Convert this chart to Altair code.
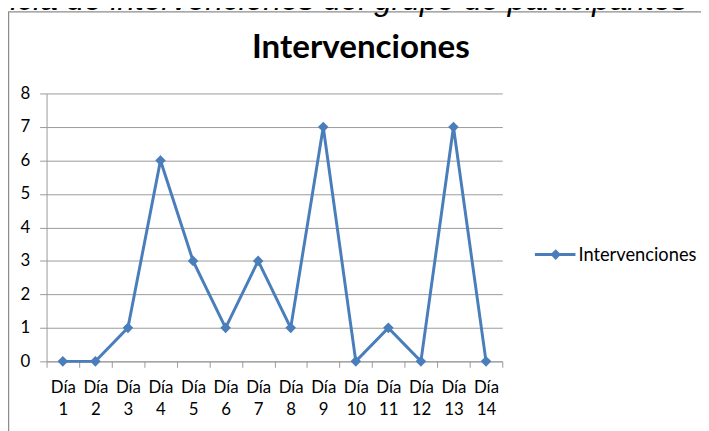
import altair as alt
import pandas as pd

dias = ["Día 1", "Día 2", "Día 3", "Día 4", "Día 5", "Día 6", "Día 7",
        "Día 8", "Día 9", "Día 10", "Día 11", "Día 12", "Día 13", "Día 14"]
intervenciones = [0, 0, 1, 6, 3, 1, 3, 1, 7, 0, 1, 0, 7, 0]
serie = "Intervenciones"
titulo = "Intervenciones"
encabezado = "Frecuencia de intervenciones del grupo de participantes"
y_ticks = [0, 1, 2, 3, 4, 5, 6, 7, 8]

BLUE = "#4A7EBB"
GRAY = "#9a9a9a"
FONT = "Lato"

df = pd.DataFrame({"dia": dias, "valor": intervenciones})
one = pd.DataFrame({"serie": [serie], "titulo": [titulo], "enc": [encabezado]})

x = alt.X("dia:N", sort=None, title=None,
          scale=alt.Scale(type="band", paddingInner=0, paddingOuter=0),
          axis=alt.Axis(tickBand="extent", labelExpr="split(datum.label, ' ')",
                        labelAngle=0, labelFont=FONT, labelFontSize=17,
                        labelColor="#000000", labelPadding=12, labelLineHeight=23,
                        labelBaseline="top",
                        domainColor=GRAY, tickColor=GRAY, tickSize=6, grid=False))
y = alt.Y("valor:Q", title=None,
          scale=alt.Scale(domain=[0, 8], nice=False),
          axis=alt.Axis(values=y_ticks, grid=True, gridColor=GRAY, domainColor=GRAY,
                        tickColor=GRAY, tickSize=7, labelPadding=10, labelFont=FONT,
                        labelFontSize=17, labelColor="#000000"))

frame_left = alt.Chart(one).mark_rule(color="#8c8c8c", strokeWidth=1.5).encode(
    x=alt.value(-38.5), y=alt.value(-82.5), y2=alt.value(400))
frame_top = alt.Chart(one).mark_rule(color="#8c8c8c", strokeWidth=1.2).encode(
    x=alt.value(-39), x2=alt.value(720), y=alt.value(-82.5))

line = alt.Chart(df).mark_line(color=BLUE, strokeWidth=3).encode(x=x, y=y)
pts = alt.Chart(df).mark_point(shape="diamond", filled=True, size=115, color=BLUE, opacity=1).encode(x=x, y=y)

title = alt.Chart(one).mark_text(font=FONT, fontSize=33.5, fontWeight="bold", color="#000000",
                                 align="center", baseline="middle").encode(
    x=alt.value(318), y=alt.value(-46), text="titulo:N")

enc = alt.Chart(one).mark_text(font="Liberation Sans", fontSize=32, fontStyle="italic",
                               color="#000000", align="right", baseline="alphabetic").encode(
    x=alt.value(648), y=alt.value(-84), text="enc:N")

leg_line = alt.Chart(one).mark_rule(color=BLUE, strokeWidth=3).encode(
    x=alt.value(494), x2=alt.value(535), y=alt.value(163))
leg_pt = alt.Chart(one).mark_point(shape="diamond", filled=True, size=115, color=BLUE, opacity=1).encode(
    x=alt.value(515), y=alt.value(163))
leg_txt = alt.Chart(one).mark_text(font=FONT, fontSize=18.5, color="#000000", align="left",
                                   baseline="middle").encode(
    x=alt.value(538), y=alt.value(163), text="serie:N")

chart = alt.layer(frame_left, frame_top, line, pts, title, enc,
                  leg_line, leg_pt, leg_txt).properties(
    width=461, height=271,
    autosize=alt.AutoSizeParams(type="none"),
    padding={"left": 39, "top": 84, "right": 201, "bottom": 68},
    background="white",
).configure_view(stroke=None)

chart.save("out.html", embed_options={"renderer": "svg", "actions": False})
